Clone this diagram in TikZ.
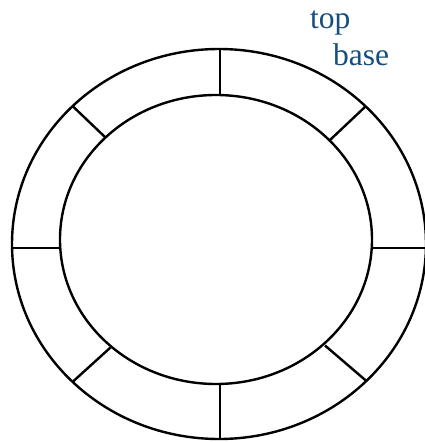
\documentclass[tikz,border=0pt]{standalone}
\usepackage{fontspec}
\setmainfont{Liberation Serif}
\definecolor{labelblue}{RGB}{22,78,128}
\begin{document}
\begin{tikzpicture}[x=1pt,y=-1pt,
  ring/.style={draw=black,line width=2.4pt},
  spoke/.style={draw=black,line width=2.4pt},
  lab/.style={text=labelblue,font=\fontsize{31.5}{36}\selectfont,inner sep=0pt,anchor=base west}]
\useasboundingbox (0,0) rectangle (425,442);
\draw[ring] (219,244) ellipse [x radius=207, y radius=195];
\draw[ring] (216,239.5) ellipse [x radius=156, y radius=144.5];
\coordinate (o1) at (220,49);   \coordinate (i1) at (220,95);
\coordinate (o2) at (366,106);  \coordinate (i2) at (330,140);
\coordinate (o3) at (426,248);  \coordinate (i3) at (372,248);
\coordinate (o4) at (367,381.5);\coordinate (i4) at (325,345.5);
\coordinate (o5) at (220,439);  \coordinate (i5) at (220,384);
\coordinate (o6) at (73,381.5); \coordinate (i6) at (110.5,347.5);
\coordinate (o7) at (12,248);   \coordinate (i7) at (60,248);
\coordinate (o8) at (72.5,106); \coordinate (i8) at (106,138);
\foreach \k in {1,...,8} \draw[spoke] (o\k) -- (i\k);
\node[lab] (top) at (310,28) {top};
\node[lab] (base) at (333,65) {base};
\end{tikzpicture}
\end{document}
